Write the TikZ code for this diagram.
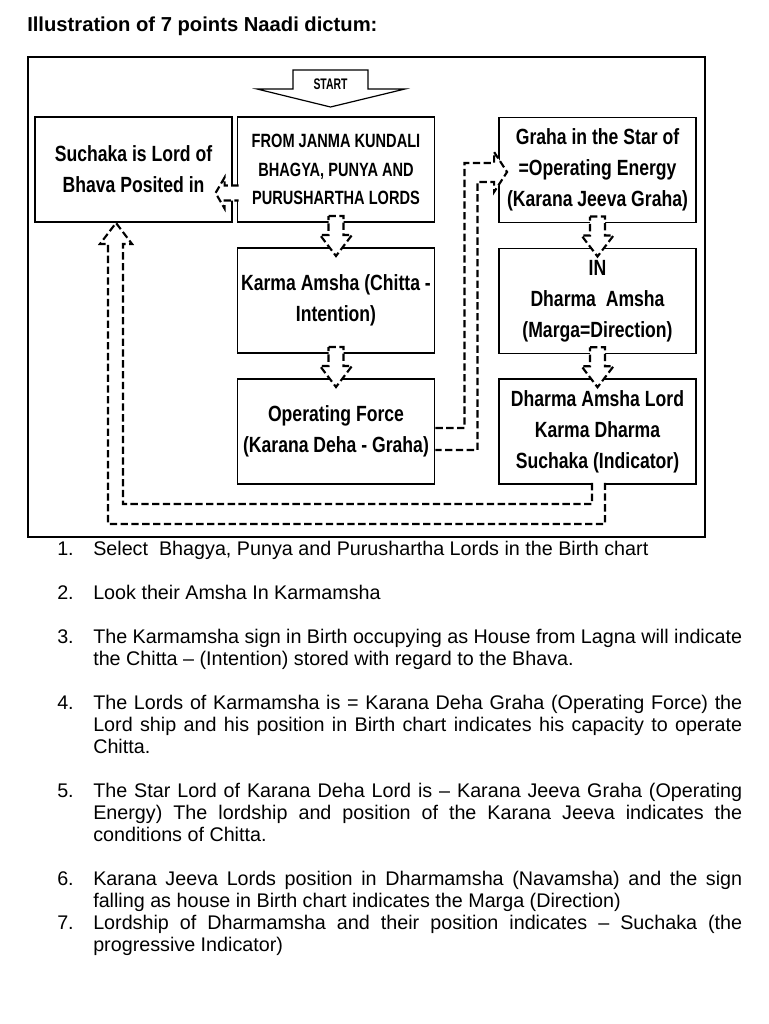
\documentclass[tikz,border=0pt]{standalone}
\usepackage{fontspec}
\setmainfont{Liberation Sans}
\newfontfamily\boxfont{Liberation Sans}[FakeStretch=0.80]
\newfontfamily\fromfont{Liberation Sans}[FakeStretch=0.76]
\newfontfamily\startfont{Liberation Sans}[FakeStretch=0.68]
\usetikzlibrary{calc}
\tikzset{
  box/.style={draw, line width=1.4pt, minimum width=147.75pt, minimum height=78.75pt,
    inner sep=0pt, align=center, font=\boxfont\bfseries\fontsize{16.5pt}{23.25pt}\selectfont},
  blk/.style={draw, line width=1.6pt, dash pattern=on 5.5pt off 2.6pt, fill=white,
    line join=miter, miter limit=10},
  listitem/.style={anchor=base west, inner sep=0pt, text width=513.75pt, align=justify,
    font=\fontsize{14.8pt}{16.5pt}\selectfont},
}
\newcommand\blockdown[2]{%
  \path[blk] ($(#1.south)!0.5!(#2.north)+(-7.5,-19)$) -- ++(15,0) -- ++(0,19) -- ++(8.5,0)
    -- ++(-16,21) -- ++(-16,-21) -- ++(8.5,0) -- cycle;}
\newcommand\itemtext[2]{\noindent\hangindent=27pt\hangafter=1\relax\makebox[27pt][l]{#1}#2\par}
\begin{document}
\begin{tikzpicture}[x=0.75pt, y=-0.75pt]
\useasboundingbox (0,0) rectangle (768,1024);

% title
\node[anchor=base west, inner sep=0pt, font=\bfseries\fontsize{15.15pt}{18pt}\selectfont] (title) at (27,32) {Illustration of 7 points Naadi dictum:};

% frame
\draw[line width=0.9pt] (28,57) rectangle (705,537);

% start arrow
\coordinate (sa) at (330.5,70);
\draw[line width=0.9pt] ($(sa)+(-37.5,0)$) -- ++(75,0) -- ++(0,19) -- ++(37,0) -- ($(sa)+(0,37)$)
  -- ($(sa)+(-73.5,19)$) -- ++(36,0) -- cycle;
\node[font=\startfont\bfseries\fontsize{11.5pt}{13pt}\selectfont, inner sep=0pt] (start) at (330.5,84) {START};

% boxes
\node[box] (such) at (133.5,169.5) {Suchaka is Lord of\\Bhava Posited in};
\node[box, font=\fromfont\bfseries\fontsize{14.4pt}{21.4pt}\selectfont] (from) at (336,169.5) {FROM JANMA KUNDALI\\BHAGYA, PUNYA AND\\PURUSHARTHA LORDS};
\node[box] (karma) at (336,300.5) {Karma Amsha (Chitta -\\Intention)};
\node[box] (op) at (336,431.5) {Operating Force\\(Karana Deha - Graha)};
\node[box] (graha) at (597.5,170) {Graha in the Star of\\=Operating Energy\\(Karana Jeeva Graha)};
\node[box] (inbox) at (597.5,301) {IN\\Dharma~ Amsha\\(Marga=Direction)};
\node[box] (dl) at (597.5,431.5) {Dharma Amsha Lord\\Karma Dharma\\Suchaka (Indicator)};

% block arrows
\blockdown{from}{karma}
\blockdown{karma}{op}
\blockdown{graha}{inbox}
\blockdown{inbox}{dl}

% from -> such (small left arrow)
\path[blk] ($(from.west)+(2,16)$) -- ++(-14,0) -- ++(0,-8) -- ++(-9,15.5) -- ++(9,15.5)
  -- ++(0,-8) -- ++(14,0);

% op -> graha elbow arrow
\path[blk] ($(op.east)+(0,-3.5)$) -- ++(29,0) |- ($(graha.west)+(-4,-7)$) -- ++(0,-11)
  -- ($(graha.west)+(9,2)$) -- ($(graha.west)+(-4,22)$) -- ++(0,-10)
  -| ($(op.east)+(42,18.5)$) -- ($(op.east)+(0,18.5)$);

% dl -> such return arrow
\path[blk] ($(dl.south)+(-5.5,-2)$) -- ++(0,21) -| ($(such.south)+(-10.5,21)$) -- ++(9,0)
  -- ($(such.south)+(-17.5,0)$) -- ($(such.south)+(-33.5,21)$) -- ++(8,0)
  |- ($(dl.south)+(7.5,39)$) -- ($(dl.south)+(7.5,-2)$);

% list
\node[listitem] (i1) at (57,555) {\itemtext{1.}{Select~ Bhagya, Punya and Purushartha Lords in the Birth chart}};
\node[listitem] (i2) at (57,599) {\itemtext{2.}{Look their Amsha In Karmamsha}};
\node[listitem] (i3) at (57,643) {\itemtext{3.}{The Karmamsha sign in Birth occupying as House from Lagna will indicate\linebreak the Chitta -- (Intention) stored with regard to the Bhava.}};
\node[listitem] (i4) at (57,709) {\itemtext{4.}{The Lords of Karmamsha is = Karana Deha Graha (Operating Force) the\linebreak Lord ship and his position in Birth chart indicates his capacity to operate\linebreak Chitta.}};
\node[listitem] (i5) at (57,797) {\itemtext{5.}{The Star Lord of Karana Deha Lord is -- Karana Jeeva Graha (Operating\linebreak Energy) The lordship and position of the Karana Jeeva indicates the\linebreak conditions of Chitta.}};
\node[listitem] (i6) at (57,885) {\itemtext{6.}{Karana Jeeva Lords position in Dharmamsha (Navamsha) and the sign\linebreak falling as house in Birth chart indicates the Marga (Direction)}};
\node[listitem] (i7) at (57,929) {\itemtext{7.}{Lordship of Dharmamsha and their position indicates -- Suchaka (the\linebreak progressive Indicator)}};
\end{tikzpicture}
\end{document}
